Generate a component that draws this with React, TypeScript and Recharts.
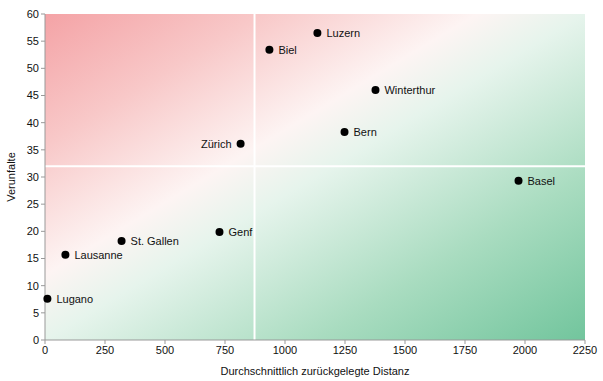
import React from 'react';
import { ScatterChart, Scatter, XAxis, YAxis, ReferenceArea, ReferenceLine } from 'recharts';

const cities = ['Lugano', 'Lausanne', 'St. Gallen', 'Genf', 'Zürich', 'Biel', 'Luzern', 'Winterthur', 'Bern', 'Basel'];
const distances = [10, 85, 319, 727, 815, 935, 1135, 1377, 1248, 1973];
const accidents = [7.6, 15.7, 18.2, 19.9, 36.1, 53.4, 56.5, 46.0, 38.3, 29.3];
const xTicks = [0, 250, 500, 750, 1000, 1250, 1500, 1750, 2000, 2250];
const yTicks = [0, 5, 10, 15, 20, 25, 30, 35, 40, 45, 50, 55, 60];
const xSplit = 873;
const ySplit = 32;
const leftLabelCities = ['Zürich'];

const data = cities.map((name, i) => ({ name, x: distances[i], y: accidents[i] }));

const FONT = '"Liberation Sans", Arial, sans-serif';

const Dot = (props: any) => {
  const { cx, cy, payload } = props;
  const left = leftLabelCities.includes(payload.name);
  return (
    <g>
      <circle cx={cx} cy={cy} r={4} fill="#000" />
      <text
        x={left ? cx - 9 : cx + 9}
        y={cy}
        dy="0.35em"
        textAnchor={left ? 'end' : 'start'}
        fontSize={11}
        fontFamily={FONT}
        fill="#111"
      >
        {payload.name}
      </text>
    </g>
  );
};

export default function App() {
  return (
    <div style={{ position: 'absolute', left: 0, top: 0 }}>
      <ScatterChart width={603} height={381} margin={{ top: 14, right: 18, bottom: 0, left: 0 }}>
        <defs>
          <linearGradient id="bg" x1="0" y1="0" x2="1" y2="1">
            <stop offset="0" stopColor="#f4a3a6" />
            <stop offset="0.2" stopColor="#f8c8c8" />
            <stop offset="0.4" stopColor="#fdf4f3" />
            <stop offset="0.5" stopColor="#e6f4ec" />
            <stop offset="0.75" stopColor="#a9dcc0" />
            <stop offset="1" stopColor="#72c59d" />
          </linearGradient>
        </defs>
        <XAxis
          type="number"
          dataKey="x"
          domain={[0, 2250]}
          ticks={xTicks}
          interval={0}
          height={41}
          stroke="#999"
          tickLine={{ stroke: '#999' }}
          tickSize={4}
          tick={{ fill: '#111', fontSize: 11, fontFamily: FONT }}
          label={{ value: 'Durchschnittlich zurückgelegte Distanz', position: 'insideBottom', offset: 6, fill: '#111', fontSize: 11, fontFamily: FONT }}
        />
        <YAxis
          type="number"
          dataKey="y"
          domain={[0, 60]}
          ticks={yTicks}
          interval={0}
          width={45}
          stroke="#999"
          tickLine={{ stroke: '#999' }}
          tickSize={4}
          tick={{ fill: '#111', fontSize: 11, fontFamily: FONT }}
          label={{ value: 'Verunfalte', angle: -90, position: 'insideLeft', offset: 11, fill: '#111', fontSize: 11, fontFamily: FONT, style: { textAnchor: 'middle' } }}
        />
        <ReferenceArea x1={0} x2={2250} y1={0} y2={60} fill="url(#bg)" fillOpacity={1} stroke="none" ifOverflow="hidden" />
        <ReferenceLine x={xSplit} stroke="#fff" strokeWidth={2} />
        <ReferenceLine y={ySplit} stroke="#fff" strokeWidth={2} />
        <Scatter data={data} isAnimationActive={false} shape={<Dot />} />
      </ScatterChart>
    </div>
  );
}
